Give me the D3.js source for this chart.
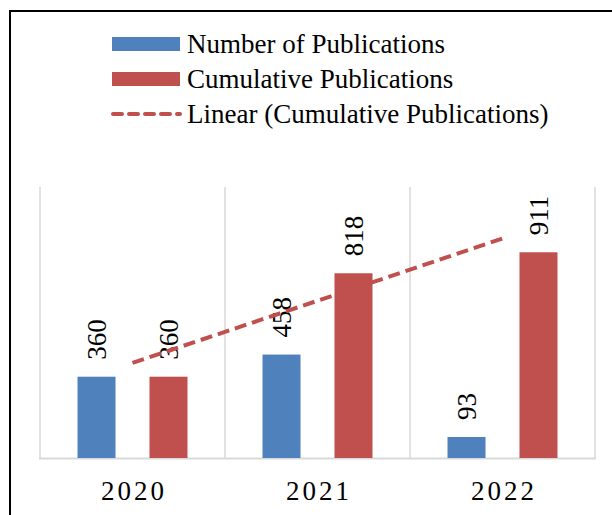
<!doctype html>
<html>
<head>
<meta charset="utf-8"/>
<script src="https://cdnjs.cloudflare.com/ajax/libs/d3/7.8.5/d3.min.js"></script>
</head>
<body style="margin:0">
<svg width="612" height="515"></svg>
<script>
var years = ["2020", "2021", "2022"];
var seriesNames = ["Number of Publications", "Cumulative Publications"];
var publications = [360, 458, 93];
var cumulative = [360, 818, 911];
var trendName = "Linear (Cumulative Publications)";
var colors = ["#4F81BD", "#C0504D"];
var serif = "Liberation Serif";
var gridColor = "#D9D9D9";

var svg = d3.select("svg");

// outer frame, runs off the right and bottom edge like the source image
svg.append("rect")
  .attr("x", 10).attr("y", 11)
  .attr("width", 700).attr("height", 600)
  .attr("fill", "none")
  .attr("stroke", "#000")
  .attr("stroke-width", 2);

var x = d3.scaleBand().domain(years).range([40, 595]);
var xs = d3.scaleBand().domain(seriesNames).range([0, x.bandwidth()])
  .paddingInner(0.472).paddingOuter(0.521);
var y = d3.scaleLinear().domain([0, 1200]).range([458, 187]);

var rows = years.map((yr, i) => ({year: yr, values: [publications[i], cumulative[i]]}));

// vertical category separators
var edges = years.map(d => x(d)).concat([x.range()[1]]);
svg.append("g").selectAll("line")
  .data(edges)
  .enter()
  .append("line")
  .attr("stroke", gridColor)
  .attr("stroke-width", 1.5)
  .attr("x1", d => d).attr("x2", d => d)
  .attr("y1", y.range()[1]).attr("y2", y(0));

svg.append("line")
  .attr("stroke", gridColor)
  .attr("stroke-width", 2)
  .attr("x1", 39).attr("x2", 596)
  .attr("y1", y(0) + 0.5).attr("y2", y(0) + 0.5);

var groups = svg.append("g").selectAll("g")
  .data(rows)
  .enter()
  .append("g")
  .attr("transform", d => "translate(" + x(d.year) + ",0)");

groups.selectAll("rect")
  .data(d => d.values.map((v, k) => ({name: seriesNames[k], value: v, k: k})))
  .enter()
  .append("rect")
  .attr("x", d => xs(d.name))
  .attr("width", xs.bandwidth())
  .attr("y", d => y(d.value))
  .attr("height", d => y(0) - y(d.value))
  .attr("fill", d => colors[d.k]);

groups.selectAll("text")
  .data(d => d.values.map((v, k) => ({name: seriesNames[k], value: v})))
  .enter()
  .append("text")
  .attr("transform", d => "translate(" + (xs(d.name) + xs.bandwidth() / 2) + "," + (y(d.value) - 17) + ") rotate(-90)")
  .attr("dy", "0.35em")
  .attr("font-family", serif)
  .attr("font-size", 27)
  .text(d => d.value);

// linear trend of the cumulative series (least squares over category index)
var idx = years.map((d, i) => i + 1);
var mx = d3.mean(idx), my = d3.mean(cumulative);
var slope = d3.sum(idx, (v, i) => (v - mx) * (cumulative[i] - my)) / d3.sum(idx, v => (v - mx) * (v - mx));
var trend = idx.map(v => my + slope * (v - mx));

svg.append("path")
  .datum(trend)
  .attr("fill", "none")
  .attr("stroke", colors[1])
  .attr("stroke-width", 4)
  .attr("stroke-dasharray", "12,6")
  .attr("d", d3.line()
    .x((d, i) => x(years[i]) + x.bandwidth() / 2)
    .y(d => y(d)));

// category labels
svg.append("g").selectAll("text")
  .data(years)
  .enter()
  .append("text")
  .attr("x", d => x(d) + x.bandwidth() / 2 + 1.5)
  .attr("y", 500)
  .attr("text-anchor", "middle")
  .attr("font-family", serif)
  .attr("font-size", 27)
  .attr("letter-spacing", 3)
  .text(d => d);

// legend
var legendItems = [
  {label: seriesNames[0], color: colors[0], type: "bar"},
  {label: seriesNames[1], color: colors[1], type: "bar"},
  {label: trendName, color: colors[1], type: "line"}
];
var legend = svg.append("g").selectAll("g")
  .data(legendItems)
  .enter()
  .append("g")
  .attr("transform", (d, i) => "translate(112," + (44 + i * 35) + ")");

legend.filter(d => d.type == "bar")
  .append("rect")
  .attr("x", 0).attr("y", -7)
  .attr("width", 68).attr("height", 14)
  .attr("fill", d => d.color);

legend.filter(d => d.type == "line")
  .append("line")
  .attr("x1", 1).attr("x2", 68)
  .attr("stroke", d => d.color)
  .attr("stroke-width", 4)
  .attr("stroke-linecap", "round")
  .attr("stroke-dasharray", "9,7");

legend.append("text")
  .attr("x", 75)
  .attr("dy", "0.33em")
  .attr("font-family", serif)
  .attr("font-size", 27)
  .text(d => d.label);
</script>
</body>
</html>
